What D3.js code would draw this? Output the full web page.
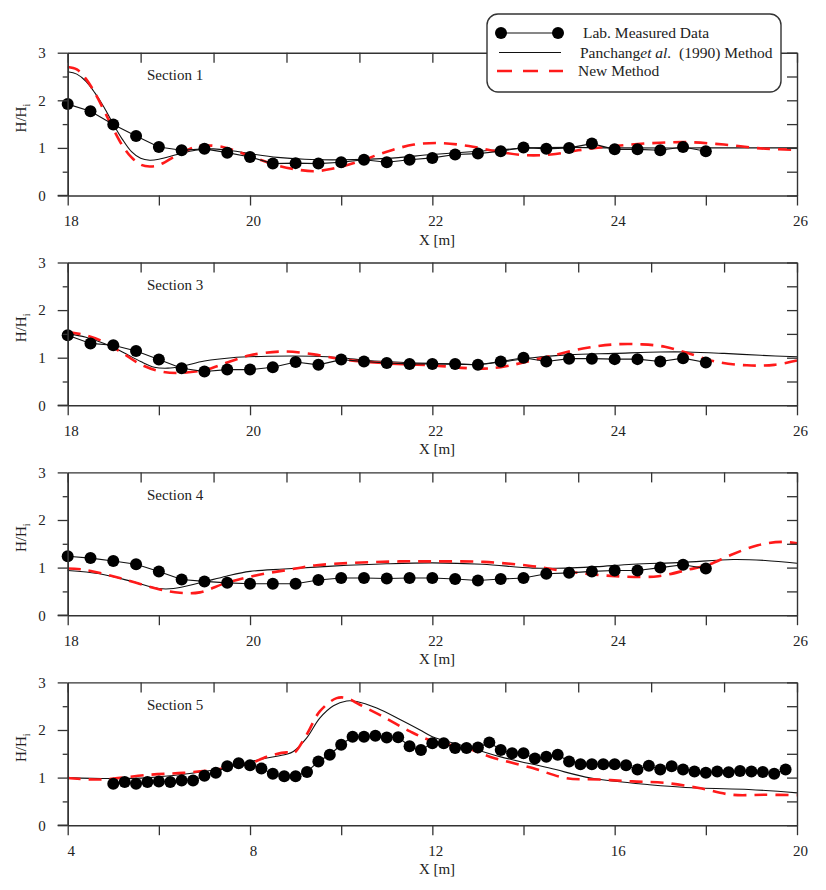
<!DOCTYPE html>
<html>
<head>
<meta charset="utf-8">
<script src="https://cdn.jsdelivr.net/npm/d3@7"></script>
<style>
  html, body { margin: 0; padding: 0; background: #fff; }
  svg { display: block; font-family: "Liberation Serif", "Times New Roman", serif; }
</style>
</head>
<body>
<svg id="chart" width="826" height="890"></svg>
<script>
// ---------------- DATA ----------------
const sectionNames = ["Section 1", "Section 3", "Section 4", "Section 5"];
const xDomains = [[18, 26], [18, 26], [18, 26], [4, 20]];
const xTickValues = [[18,19,20,21,22,23,24,25,26],[18,19,20,21,22,23,24,25,26],[18,19,20,21,22,23,24,25,26],[4,6,8,10,12,14,16,18,20]];
const xTickLabels = [[18,20,22,24,26],[18,20,22,24,26],[18,20,22,24,26],[4,8,12,16,20]];
const yMajorTicks = [0, 1, 2, 3];
const yMinorTicks = [0.5, 1.5, 2.5];

// Section 1
const s1MeasX = [18.0,18.25,18.5,18.75,19.0,19.25,19.5,19.75,20.0,20.25,20.5,20.75,21.0,21.25,21.5,21.75,22.0,22.25,22.5,22.75,23.0,23.25,23.5,23.75,24.0,24.25,24.5,24.75,25.0];
const s1MeasY = [1.92,1.77,1.49,1.25,1.02,0.95,0.98,0.90,0.81,0.67,0.68,0.67,0.70,0.75,0.70,0.75,0.79,0.86,0.88,0.93,1.01,0.98,1.00,1.09,0.97,0.97,0.95,1.02,0.93];
const s1PanX = [18.0,18.1,18.2,18.3,18.4,18.5,18.6,18.7,18.8,18.9,19.0,19.2,19.4,19.6,19.8,20.0,20.3,20.6,21.0,21.5,22.0,22.5,23.0,23.5,24.0,25.0,26.0];
const s1PanY = [2.60,2.55,2.40,2.15,1.85,1.50,1.18,0.92,0.78,0.74,0.76,0.86,0.95,0.98,0.94,0.88,0.80,0.76,0.75,0.78,0.86,0.93,0.99,1.01,1.00,1.00,1.00];
const s1NewX = [18.0,18.1,18.2,18.3,18.4,18.5,18.6,18.7,18.8,18.9,19.0,19.2,19.4,19.5,19.7,19.9,20.1,20.3,20.5,20.7,20.9,21.2,21.5,21.8,22.1,22.4,22.7,23.0,23.3,23.6,24.0,24.4,24.8,25.2,25.6,26.0];
const s1NewY = [2.70,2.65,2.45,2.15,1.78,1.40,1.05,0.80,0.65,0.61,0.64,0.85,1.02,1.05,1.02,0.90,0.76,0.63,0.55,0.51,0.56,0.72,0.92,1.07,1.10,1.04,0.93,0.85,0.86,0.95,1.04,1.10,1.12,1.07,0.99,0.96];

// Section 3
const s3MeasX = [18.0,18.25,18.5,18.75,19.0,19.25,19.5,19.75,20.0,20.25,20.5,20.75,21.0,21.25,21.5,21.75,22.0,22.25,22.5,22.75,23.0,23.25,23.5,23.75,24.0,24.25,24.5,24.75,25.0];
const s3MeasY = [1.47,1.30,1.26,1.14,0.96,0.78,0.71,0.75,0.75,0.80,0.91,0.85,0.96,0.92,0.89,0.87,0.87,0.87,0.85,0.92,1.00,0.92,0.98,0.98,0.97,0.97,0.92,0.99,0.90];
const s3PanX = [18.0,18.2,18.4,18.6,18.8,18.95,19.1,19.25,19.5,19.8,20.2,20.7,21.0,21.3,21.7,22.0,22.5,22.8,23.1,23.5,24.0,24.5,24.8,25.2,25.6,26.0];
const s3PanY = [1.50,1.43,1.30,1.12,0.92,0.80,0.78,0.82,0.93,1.00,1.03,1.03,1.00,0.94,0.90,0.88,0.86,0.92,1.00,1.06,1.09,1.12,1.12,1.09,1.05,1.02];
const s3NewX = [18.0,18.2,18.4,18.6,18.8,19.0,19.2,19.5,19.75,20.0,20.35,20.7,21.0,21.3,21.7,22.0,22.5,22.75,23.0,23.35,23.7,24.0,24.3,24.55,24.8,25.1,25.45,25.75,26.0];
const s3NewY = [1.54,1.47,1.33,1.10,0.86,0.72,0.68,0.74,0.90,1.05,1.13,1.07,0.97,0.91,0.86,0.84,0.77,0.80,0.90,1.06,1.21,1.28,1.28,1.23,1.10,0.92,0.84,0.85,0.94];

// Section 4
const s4MeasX = [18.0,18.25,18.5,18.75,19.0,19.25,19.5,19.75,20.0,20.25,20.5,20.75,21.0,21.25,21.5,21.75,22.0,22.25,22.5,22.75,23.0,23.25,23.5,23.75,24.0,24.25,24.5,24.75,25.0];
const s4MeasY = [1.24,1.20,1.14,1.07,0.92,0.75,0.71,0.68,0.66,0.66,0.66,0.74,0.78,0.78,0.77,0.78,0.78,0.76,0.73,0.76,0.78,0.87,0.89,0.92,0.94,0.94,1.00,1.06,0.98];
const s4PanX = [18.0,18.35,18.72,19.0,19.16,19.45,19.74,20.0,20.37,20.9,21.5,22.0,22.55,23.1,23.47,23.8,24.2,24.74,25.3,25.65,26.0];
const s4PanY = [0.94,0.87,0.70,0.56,0.56,0.68,0.82,0.92,0.97,1.03,1.08,1.10,1.07,0.99,0.99,1.02,1.07,1.11,1.17,1.15,1.09];
const s4NewX = [18.0,18.17,18.57,19.01,19.23,19.45,19.74,20.1,20.44,20.73,21.13,21.64,22.0,22.56,23.1,23.47,24.01,24.48,24.81,25.03,25.28,25.57,25.83,26.0];
const s4NewY = [0.98,0.96,0.78,0.54,0.47,0.48,0.68,0.85,0.96,1.05,1.10,1.13,1.13,1.12,1.03,0.92,0.82,0.82,0.96,1.06,1.27,1.47,1.54,1.51];

// Section 5
const s5MeasX = [5.0,5.25,5.5,5.75,6.0,6.25,6.5,6.75,7.0,7.25,7.5,7.75,8.0,8.25,8.5,8.75,9.0,9.25,9.5,9.75,10.0,10.25,10.5,10.75,11.0,11.25,11.5,11.75,12.0,12.25,12.5,12.75,13.0,13.25,13.5,13.75,14.0,14.25,14.5,14.75,15.0,15.25,15.5,15.75,16.0,16.25,16.5,16.75,17.0,17.25,17.5,17.75,18.0,18.25,18.5,18.75,19.0,19.25,19.5,19.75];
const s5MeasY = [0.87,0.91,0.87,0.91,0.92,0.91,0.94,0.94,1.04,1.10,1.24,1.30,1.26,1.19,1.08,1.03,1.03,1.12,1.34,1.48,1.69,1.86,1.86,1.88,1.84,1.85,1.66,1.58,1.72,1.72,1.62,1.62,1.63,1.74,1.58,1.51,1.51,1.40,1.44,1.48,1.34,1.28,1.28,1.28,1.28,1.26,1.17,1.25,1.17,1.24,1.17,1.13,1.10,1.13,1.11,1.14,1.13,1.12,1.08,1.17];
const s5PanX = [4.0,4.93,5.8,6.54,7.27,7.78,8.07,8.37,8.8,8.95,9.24,9.53,9.83,10.12,10.34,10.78,11.29,11.73,12.0,12.75,13.48,14.57,15.48,16.76,17.85,18.94,20.0];
const s5PanY = [1.00,0.98,1.00,1.07,1.17,1.28,1.35,1.41,1.49,1.55,1.83,2.25,2.51,2.61,2.60,2.46,2.22,2.00,1.86,1.65,1.44,1.20,0.99,0.85,0.78,0.75,0.68];
const s5NewX = [4.0,4.7,5.8,6.54,7.27,7.78,7.96,8.37,8.8,8.95,9.24,9.53,9.9,10.12,10.41,10.92,11.51,12.02,12.75,13.26,14.2,14.93,15.66,16.39,17.1,17.85,18.57,19.3,20.0];
const s5NewY = [0.99,0.96,1.06,1.10,1.17,1.27,1.28,1.44,1.53,1.51,1.90,2.39,2.67,2.67,2.53,2.28,1.97,1.76,1.62,1.44,1.20,0.99,0.96,0.92,0.89,0.78,0.64,0.64,0.63];

const measX = [s1MeasX, s3MeasX, s4MeasX, s5MeasX];
const measY = [s1MeasY, s3MeasY, s4MeasY, s5MeasY];
const panX = [s1PanX, s3PanX, s4PanX, s5PanX];
const panY = [s1PanY, s3PanY, s4PanY, s5PanY];
const newX = [s1NewX, s3NewX, s4NewX, s5NewX];
const newY = [s1NewY, s3NewY, s4NewY, s5NewY];

const legendLabels = ["Lab. Measured Data", "Panchang", "et al.", "  (1990) Method", "New Method"];

// ---------------- LAYOUT ----------------
const svg = d3.select("#chart");
const left = 67.7, right = 797, panelH = 142.8;
const tops = [52.7, 262.5, 472.4, 682.4];
const axisColor = "#333";
const textColor = "#222";
const fontSize = 15;

tops.forEach((top, i) => {
  const x = d3.scaleLinear().domain(xDomains[i]).range([left, right]);
  const y = d3.scaleLinear().domain([0, 3]).range([top + panelH, top]);
  const g = svg.append("g");

  // Data: Panchang solid
  const lineP = d3.line().x((d) => x(d[0])).y((d) => y(d[1])).curve(d3.curveCatmullRom.alpha(0.5));
  g.append("path")
    .datum(panX[i].map((v, k) => [v, panY[i][k]]))
    .attr("d", lineP).attr("fill", "none").attr("stroke", "#111").attr("stroke-width", 1.1);

  // New method red dashed
  g.append("path")
    .datum(newX[i].map((v, k) => [v, newY[i][k]]))
    .attr("d", lineP).attr("fill", "none").attr("stroke", "#ff1a1a")
    .attr("stroke-width", 2.6).attr("stroke-dasharray", "13,8");

  // Measured
  const lineM = d3.line().x((d) => x(d[0])).y((d) => y(d[1]));
  const meas = measX[i].map((v, k) => [v, measY[i][k]]);
  g.append("path").datum(meas).attr("d", lineM).attr("fill", "none").attr("stroke", "#111").attr("stroke-width", 1.1);
  g.selectAll("circle.m").data(meas).enter().append("circle")
    .attr("cx", (d) => x(d[0])).attr("cy", (d) => y(d[1])).attr("r", 6).attr("fill", "#000");

  // Axes
  const styleAxis = (sel) => {
    sel.selectAll("path.domain").attr("stroke", axisColor).attr("stroke-width", 1.4);
    sel.selectAll(".tick line").attr("stroke", axisColor).attr("stroke-width", 1.3);
    sel.selectAll(".tick text").attr("fill", textColor)
      .style("font-size", fontSize + "px").style("font-family", '"Liberation Serif", serif');
  };

  // left majors
  g.append("g").attr("transform", `translate(${left},0)`)
    .call(d3.axisLeft(y).tickValues(yMajorTicks).tickFormat(d3.format("d")).tickSize(10).tickSizeOuter(0).tickPadding(12))
    .call(styleAxis);
  // left minors
  g.append("g").attr("transform", `translate(${left},0)`)
    .call(d3.axisLeft(y).tickValues(yMinorTicks).tickFormat("").tickSize(5).tickSizeOuter(0))
    .call(styleAxis);
  // right
  g.append("g").attr("transform", `translate(${right},0)`)
    .call(d3.axisRight(y).tickValues(yMinorTicks.concat(yMajorTicks)).tickFormat("").tickSize(-10).tickSizeOuter(0))
    .call(styleAxis);
  // top: 10 equal divisions
  const d0 = xDomains[i][0], d1 = xDomains[i][1];
  const topTicks = d3.range(11).map((k) => d0 + k * (d1 - d0) / 10);
  g.append("g").attr("transform", `translate(0,${top})`)
    .call(d3.axisTop(x).tickValues(topTicks).tickFormat("").tickSize(-10).tickSizeOuter(0))
    .call(styleAxis);
  // bottom
  const labs = xTickLabels[i];
  const bottom = g.append("g").attr("transform", `translate(0,${top + panelH})`)
    .call(d3.axisBottom(x).tickValues(xTickValues[i])
      .tickFormat((v) => (labs.includes(v) ? String(v) : "")).tickSize(10).tickSizeOuter(0).tickPadding(10))
    .call(styleAxis);
  bottom.selectAll(".tick text").attr("dx", "3");
  // extend bottom line left to meet y=0 tick
  g.append("line").attr("x1", left - 10).attr("x2", left)
    .attr("y1", top + panelH).attr("y2", top + panelH).attr("stroke", axisColor).attr("stroke-width", 1.4);

  // Section label
  g.append("text").attr("x", 147).attr("y", top + 27.5)
    .attr("fill", textColor).style("font-size", fontSize + "px").text(sectionNames[i]);

  // X label
  g.append("text").attr("x", 437).attr("y", top + panelH + 49)
    .attr("text-anchor", "middle").attr("fill", textColor).style("font-size", fontSize + "px").text("X [m]");

  // Y label
  const yl = g.append("text")
    .attr("transform", `translate(26,${top + panelH / 2 - 6}) rotate(-90)`)
    .attr("text-anchor", "middle").attr("fill", textColor).style("font-size", fontSize + "px");
  yl.append("tspan").text("H/H");
  yl.append("tspan").attr("dy", 4).style("font-size", "10px").text("i");
});

// ---------------- LEGEND ----------------
const lg = svg.append("g");
lg.append("rect").attr("x", 487).attr("y", 14).attr("width", 294).attr("height", 78)
  .attr("rx", 11).attr("ry", 11).attr("fill", "#fff").attr("stroke", axisColor).attr("stroke-width", 1.4);
// measured
lg.append("line").attr("x1", 501).attr("x2", 558).attr("y1", 33).attr("y2", 33).attr("stroke", "#111").attr("stroke-width", 1.2);
lg.selectAll("circle.l").data([501, 558]).enter().append("circle")
  .attr("cx", (d) => d).attr("cy", 33).attr("r", 6).attr("fill", "#000");
lg.append("text").attr("x", 583).attr("y", 38).attr("fill", textColor).style("font-size", "15.5px").text(legendLabels[0]);
// panchang
lg.append("line").attr("x1", 499).attr("x2", 561).attr("y1", 52.5).attr("y2", 52.5).attr("stroke", "#111").attr("stroke-width", 1.2);
const pt = lg.append("text").attr("x", 580).attr("y", 57.5).attr("fill", textColor).style("font-size", "15.5px").attr("xml:space", "preserve");
pt.append("tspan").text(legendLabels[1]);
pt.append("tspan").style("font-style", "italic").text(legendLabels[2]);
pt.append("tspan").text(legendLabels[3]);
// new
lg.append("line").attr("x1", 497).attr("x2", 563).attr("y1", 71).attr("y2", 71)
  .attr("stroke", "#ff1a1a").attr("stroke-width", 2.6).attr("stroke-dasharray", "15,11");
lg.append("text").attr("x", 578).attr("y", 76).attr("fill", textColor).style("font-size", "15.5px").text(legendLabels[4]);
</script>
</body>
</html>
